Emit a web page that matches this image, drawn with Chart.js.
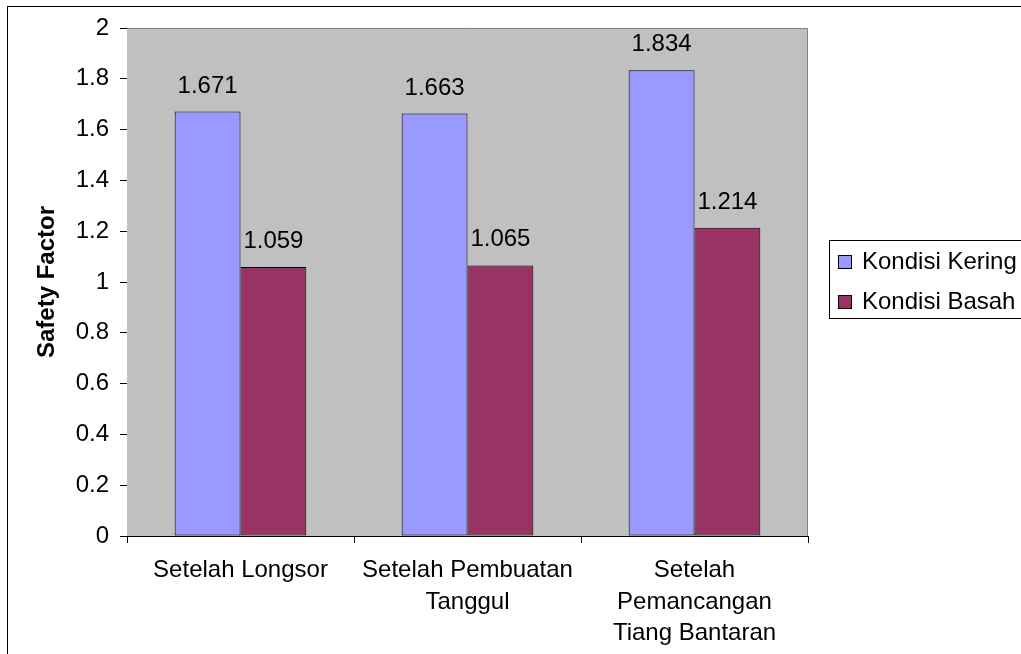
<!DOCTYPE html>
<html>
<head>
<meta charset="utf-8">
<script src="https://cdn.jsdelivr.net/npm/chart.js@4/dist/chart.umd.min.js"></script>
<style>
  html, body { margin: 0; padding: 0; background: #ffffff; }
  #wrap { width: 1021px; height: 654px; }
</style>
</head>
<body>
<div id="wrap"><canvas id="c" width="1021" height="654"></canvas></div>
<script>
// Categories (multi-line labels) and safety factor values per condition
const categories = [
  ['Setelah Longsor'],
  ['Setelah Pembuatan', 'Tanggul'],
  ['Setelah', 'Pemancangan', 'Tiang Bantaran']
];
const seriesNames = ['Kondisi Kering', 'Kondisi Basah'];
const keringValues = [1.671, 1.663, 1.834];
const basahValues = [1.059, 1.065, 1.214];
const seriesColors = ['#9999FF', '#993366'];

const FONT = '"Liberation Sans", Arial, sans-serif';
const FSIZE = 24;

// Gray plot area, outer frame, value labels and legend
const decor = {
  id: 'decor',
  beforeDatasetsDraw(chart) {
    const { ctx, chartArea: a } = chart;
    ctx.save();
    ctx.fillStyle = '#C0C0C0';
    ctx.fillRect(a.left, a.top, a.right - a.left, a.bottom - a.top);
    ctx.strokeStyle = '#808080';
    ctx.lineWidth = 1;
    ctx.beginPath();
    ctx.moveTo(a.left, a.top + 0.5);
    ctx.lineTo(a.right - 0.5, a.top + 0.5);
    ctx.lineTo(a.right - 0.5, a.bottom);
    ctx.stroke();
    ctx.restore();
  },
  afterDraw(chart) {
    const { ctx } = chart;
    ctx.save();
    // outer chart frame
    ctx.strokeStyle = '#000000';
    ctx.lineWidth = 1;
    ctx.strokeRect(7.5, 6.5, 1100, 1000);

    // value labels above bars
    ctx.fillStyle = '#000000';
    ctx.font = FSIZE + 'px ' + FONT;
    ctx.textAlign = 'center';
    ctx.textBaseline = 'alphabetic';
    chart.data.datasets.forEach((ds, i) => {
      chart.getDatasetMeta(i).data.forEach((bar, j) => {
        ctx.fillText(ds.data[j].toFixed(3), bar.x, bar.y - 19);
      });
    });

    // legend
    ctx.strokeStyle = '#000000';
    ctx.strokeRect(829.5, 240.5, 300, 78);
    ctx.textAlign = 'left';
    ctx.textBaseline = 'middle';
    const rows = [262, 302];
    seriesNames.forEach((name, i) => {
      ctx.fillStyle = seriesColors[i];
      ctx.fillRect(838, rows[i] - 7, 14, 14);
      ctx.strokeStyle = '#000000';
      ctx.strokeRect(838.5, rows[i] - 6.5, 13, 13);
      ctx.fillStyle = '#000000';
      ctx.fillText(name, 862, rows[i]);
    });
    ctx.restore();
  }
};

new Chart(document.getElementById('c'), {
  type: 'bar',
  data: {
    labels: categories,
    datasets: [
      { label: seriesNames[0], data: keringValues, backgroundColor: seriesColors[0] },
      { label: seriesNames[1], data: basahValues, backgroundColor: seriesColors[1] }
    ]
  },
  options: {
    responsive: false,
    animation: false,
    layout: { padding: { left: 0, top: 28, right: 213, bottom: 0 } },
    datasets: {
      bar: {
        categoryPercentage: 0.58,
        barPercentage: 1.0,
        borderColor: '#000000',
        borderWidth: 1,
        borderSkipped: false
      }
    },
    plugins: {
      legend: { display: false },
      tooltip: { enabled: false }
    },
    scales: {
      x: {
        offset: true,
        grid: { offset: true, drawOnChartArea: false, drawTicks: true, tickLength: 7, color: '#000000' },
        border: { display: true, color: '#000000', width: 1 },
        ticks: {
          color: '#000000',
          font: { family: FONT, size: FSIZE, lineHeight: 1.31 },
          padding: 12,
          maxRotation: 0,
          autoSkip: false
        },
        afterFit(scale) { scale.height = 118; }
      },
      y: {
        min: 0,
        max: 2,
        grid: { drawOnChartArea: false, drawTicks: true, tickLength: 7, color: '#000000' },
        border: { display: true, color: '#000000', width: 1 },
        ticks: {
          stepSize: 0.2,
          color: '#000000',
          font: { family: FONT, size: FSIZE },
          padding: 11,
          callback: (v) => String(parseFloat(Number(v).toFixed(1)))
        },
        title: {
          display: true,
          text: 'Safety Factor',
          color: '#000000',
          font: { family: FONT, size: FSIZE, weight: 'bold' },
          padding: { top: 33, bottom: 0 }
        },
        afterFit(scale) { scale.width = 127; }
      }
    }
  },
  plugins: [decor]
});
</script>
</body>
</html>
